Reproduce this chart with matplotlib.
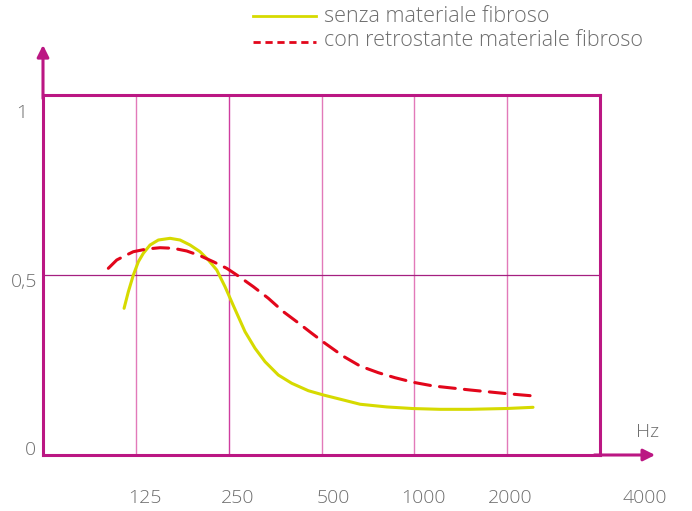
import numpy as np
import matplotlib
matplotlib.use("Agg")
import matplotlib.pyplot as plt
from matplotlib.lines import Line2D
from matplotlib.transforms import offset_copy, blended_transform_factory

# frequency (Hz) and absorption values
hz_senza = [114.5, 118.2, 122.7, 127.4, 132.2, 139.0, 147.9, 161.4, 173.9, 187.4, 201.9,
            214.8, 228.7, 243.3, 258.9, 282.5, 304.4, 328.0, 362.2, 400.4, 453.2, 507,
            588.6, 666.8, 813.9, 992.6, 1211.5, 1515.8, 1998, 2425.9]
val_senza = [0.4075, 0.4536, 0.5, 0.537, 0.5603, 0.5833, 0.5972, 0.6019, 0.5972, 0.5833, 0.5647,
             0.5417, 0.5139, 0.4675, 0.415, 0.3425, 0.2964, 0.2592, 0.2222, 0.1992, 0.1786, 0.1667,
             0.1528, 0.1410, 0.1335, 0.1290, 0.1269, 0.1269, 0.1292, 0.1325]

hz_con = [101.8, 108.4, 115.3, 122.7, 135.6, 149.8, 165.4, 182.8, 201.9, 222.9, 246.4, 268.7,
          300.6, 336.2, 376.0, 415.6, 464.9, 513.5, 588.6, 666.8, 764.3, 865.7, 992.6, 1152.5,
          1515.8, 1998, 2444]
val_con = [0.5186, 0.5417, 0.5536, 0.5647, 0.5722, 0.5758, 0.5742, 0.5667, 0.5536, 0.5369, 0.5186,
           0.4972, 0.4675, 0.4353, 0.3981, 0.3703, 0.3381, 0.3103, 0.2742, 0.2472, 0.2286, 0.2147,
           0.2019, 0.1917, 0.1806, 0.1703, 0.1639]

x_ticks = [125, 250, 500, 1000, 2000, 4000]
x_labels = ["125", "250", "500", "1000", "2000", "4000"]
y_ticks = [1, 0.5, 0]
y_labels = ["1", "0,5", "0"]
legend_labels = ["senza materiale fibroso", "con retrostante materiale fibroso"]

magenta = "#bb1783"
pink = "#e27ab9"
grey = "#6e6e6e"
yellow = "#d6da00"
red = "#e2061b"

plt.rcParams['font.family'] = ['Open Sans', 'DejaVu Sans']
plt.rcParams['font.weight'] = 'light'

W, H = 692, 511
fig = plt.figure(figsize=(W / 100, H / 100), dpi=100)
ax = fig.add_axes([43 / W, 1 - 455 / H, 557 / W, 360 / H])
ax.set_xscale('log', base=2)
ax.set_xlim(62.5, 4000)
ax.set_ylim(0, 1)
ax.set_xticks([])
ax.set_yticks([])
ax.minorticks_off()
for s in ax.spines.values():
    s.set_color(magenta)
    s.set_linewidth(2.2)

# grid
for f in x_ticks[:-1]:
    ax.axvline(f, color="#cf3d9f" if f == 250 else pink, lw=1.0, zorder=1)
ax.axhline(0.5, color="#a51f80", lw=0.9, zorder=1)

# curves
ax.plot(hz_senza, val_senza, color=yellow, lw=2.2, solid_capstyle='round',
        solid_joinstyle='round', zorder=3)
ax.plot(hz_con, val_con, color=red, lw=2.2, dashes=(5.2, 3), dash_capstyle='round', zorder=3)

# axis arrows
arrow = dict(arrowstyle="-|>,head_length=0.7,head_width=0.35",
             color=magenta, lw=2.2, shrinkA=0, shrinkB=0)
ax.annotate("", xy=(0, 1.139), xytext=(0, 0.99), xycoords='axes fraction',
            arrowprops=arrow, annotation_clip=False)
ax.annotate("", xy=(1.099, 0), xytext=(0.99, 0), xycoords='axes fraction',
            arrowprops=arrow, annotation_clip=False)

# x tick labels
x_shift = [9, 9, 12, 9, 3, 45]
for f, lab, dx in zip(x_ticks, x_labels, x_shift):
    tr = offset_copy(ax.transData, fig=fig, x=dx, y=-43, units='dots')
    ax.text(f, 0, lab, transform=tr, ha='center', va='center', fontsize=14,
            color=grey, clip_on=False)

# y tick labels
y_shift = [(-21, -18), (-19, -7), (-13, 5)]
for v, lab, (dx, dy) in zip(y_ticks, y_labels, y_shift):
    tr = offset_copy(ax.transAxes, fig=fig, x=dx, y=0, units='dots')
    tr2 = offset_copy(ax.transData, fig=fig, x=0, y=dy, units='dots')
    ax.text(0, v, lab, transform=blended_transform_factory(tr, tr2),
            ha='center', va='center', fontsize=14, color=grey, clip_on=False)

fig.text(648 / W, 1 - 432 / H, "Hz", ha='center', va='center', fontsize=14, color=grey)

# legend
fig.add_artist(Line2D([253 / W, 316 / W], [1 - 16 / H, 1 - 16 / H], color=yellow, lw=2))
fig.add_artist(Line2D([253 / W, 316 / W], [1 - 42 / H, 1 - 42 / H], color=red, lw=2,
                      dashes=(2.6, 1.7)))
fig.text(324 / W, 1 - 16 / H, legend_labels[0], ha='left', va='center', fontsize=15.5, color=grey)
fig.text(324 / W, 1 - 41 / H, legend_labels[1], ha='left', va='center', fontsize=15.5, color=grey)

fig.savefig("out.png", dpi=100)
